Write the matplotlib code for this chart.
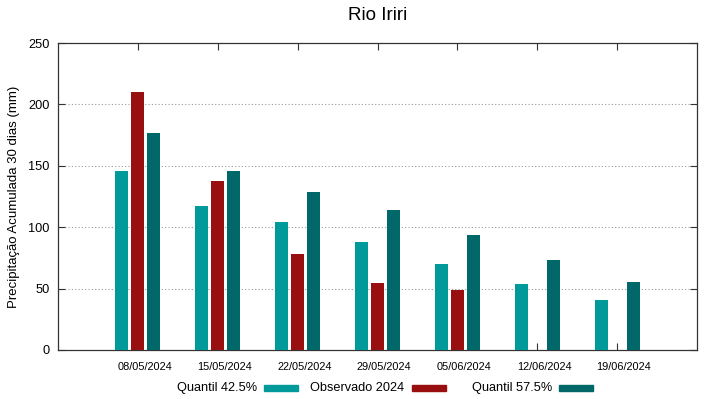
import numpy as np
import matplotlib
matplotlib.use('Agg')
import matplotlib.pyplot as plt
from matplotlib.patches import Rectangle

# dados
datas = ['08/05/2024', '15/05/2024', '22/05/2024', '29/05/2024',
         '05/06/2024', '12/06/2024', '19/06/2024']
quantil_425 = [146, 117, 104, 88, 70, 54, 40.5]
observado_2024 = [210, 138, 78, 54.5, 49, np.nan, np.nan]
quantil_575 = [177, 146, 129, 114, 94, 73, 55]
series = ['Quantil 42.5%', 'Observado 2024', 'Quantil 57.5%']
cores = ['#009a9a', '#990e0e', '#006868']

plt.rcParams['font.family'] = ['Liberation Sans', 'DejaVu Sans']

fig = plt.figure(figsize=(7.19, 3.99), dpi=100)
ax = fig.add_axes([58 / 719, 49 / 399, 639 / 719, 307 / 399])

x = np.arange(len(datas))
w = 0.165
off = 0.2
for i, vals in enumerate([quantil_425, observado_2024, quantil_575]):
    ax.bar(x + (i - 1) * off, vals, w, color=cores[i], zorder=3)

ax.set_xlim(-1, 7)
ax.set_ylim(0, 250)
ax.set_yticks([0, 50, 100, 150, 200, 250])
# ticks nas datas, rotulos um pouco deslocados (como no gnuplot)
ax.set_xticks(x)
ax.set_xticklabels([])
ax.set_xticks(x + 0.085, minor=True)
ax.set_xticklabels(datas, minor=True, fontsize=7.9)
ax.tick_params(axis='x', which='minor', length=0, pad=9)

ax.tick_params(axis='both', which='major', direction='in', length=5, width=0.8,
               top=True, right=True, color='#333333')
ax.tick_params(axis='y', labelsize=9.2, pad=6)
for s in ax.spines.values():
    s.set_color('#333333')
    s.set_linewidth(0.9)

for v in [50, 100, 150, 200]:
    ax.axhline(v, color='#999999', linestyle=(0, (1, 2)), linewidth=0.8, zorder=1)

ax.set_ylabel('Precipitação Acumulada 30 dias (mm)', fontsize=9.5, labelpad=6)
fig.text(378 / 719, 1 - 15 / 399, 'Rio Iriri', fontsize=13.5, ha='center', va='center')

# legenda estilo gnuplot: texto e depois a amostra
txt_dir = [257, 404, 552]
amostra = [264, 412, 559]
ly = 1 - 388 / 399
for nome, cor, tx, px in zip(series, cores, txt_dir, amostra):
    fig.text(tx / 719, ly, nome, fontsize=9.2, ha='right', va='center')
    fig.patches.append(Rectangle((px / 719, ly - 3 / 399), 34 / 719, 6 / 399,
                                 transform=fig.transFigure, color=cor))

fig.savefig('out.png', dpi=100)
